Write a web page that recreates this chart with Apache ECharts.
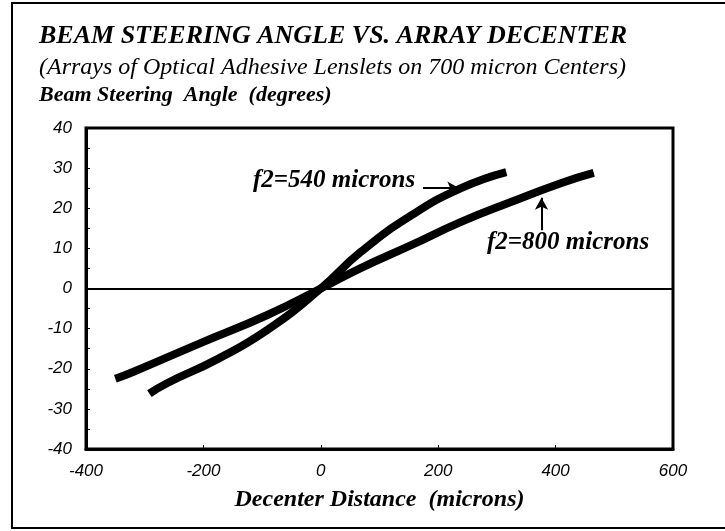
<!DOCTYPE html>
<html>
<head>
<meta charset="utf-8">
<script src="https://cdn.jsdelivr.net/npm/echarts@6/dist/echarts.min.js"></script>
<style>
  html, body { margin: 0; padding: 0; background: #fff; }
  #chart { width: 725px; height: 531px; }
</style>
</head>
<body>
<div id="chart"></div>
<script>
// 曲线数据
const f540X = [-292, -262, -176, -91, 0, 68, 154, 239, 316];
const f540Y = [-26.2, -23.6, -17.6, -10.3, 0, 9.1, 18.2, 25, 29];
const f800X = [-350, -320, -205, -91, 0, 68, 154, 239, 325, 410, 465];
const f800Y = [-22.5, -20.8, -13.6, -6.6, 0, 5.1, 10.8, 16.6, 21.6, 26.3, 28.8];

const xTicks = [-400, -200, 0, 200, 400, 600];
const yTicks = [-40, -30, -20, -10, 0, 10, 20, 30, 40];

const serif = '"Liberation Serif", "DejaVu Serif", serif';
const sans = '"Liberation Sans", Arial, sans-serif';

const chart = echarts.init(document.getElementById('chart'));

const zip = (xs, ys) => xs.map((x, i) => [x, ys[i]]);

const axisLabel = {
  color: '#000',
  fontFamily: sans,
  fontStyle: 'italic',
  fontSize: 17
};

const curveStyle = {
  type: 'line',
  smooth: true,
  showSymbol: false,
  symbol: 'none',
  silent: true,
  lineStyle: { color: '#000', width: 8, cap: 'butt' }
};

const option = {
  backgroundColor: '#fff',
  animation: false,
  title: [
    {
      text: 'BEAM STEERING ANGLE VS. ARRAY DECENTER',
      left: 34, top: 18,
      textStyle: { fontFamily: serif, fontStyle: 'italic', fontWeight: 'bold', fontSize: 26, color: '#000' }
    },
    {
      text: '(Arrays of Optical Adhesive Lenslets on 700 micron Centers)',
      left: 34, top: 51,
      textStyle: { fontFamily: serif, fontStyle: 'italic', fontWeight: 'normal', fontSize: 24, color: '#000' }
    },
    {
      text: 'Beam Steering  Angle  (degrees)',
      left: 34, top: 79,
      textStyle: { fontFamily: serif, fontStyle: 'italic', fontWeight: 'bold', fontSize: 22, color: '#000' }
    }
  ],
  grid: {
    left: 86, right: 52, top: 128, bottom: 82,
    show: true,
    borderColor: '#000',
    borderWidth: 3
  },
  xAxis: {
    type: 'value',
    min: -400, max: 600, interval: 200,
    name: 'Decenter Distance  (microns)',
    nameLocation: 'middle',
    nameGap: 39,
    nameTextStyle: { fontFamily: serif, fontStyle: 'italic', fontWeight: 'bold', fontSize: 24, color: '#000' },
    axisLine: { show: true, onZero: false, lineStyle: { color: '#000', width: 3 } },
    axisTick: { show: true, inside: true, length: 4, lineStyle: { color: '#000', width: 1 } },
    splitLine: { show: false },
    axisLabel: Object.assign({ margin: 14, formatter: v => xTicks.includes(v) ? String(v) : '' }, axisLabel)
  },
  yAxis: {
    type: 'value',
    min: -40, max: 40, interval: 10,
    axisLine: { show: true, onZero: false, lineStyle: { color: '#000', width: 3 } },
    axisTick: { show: true, inside: true, length: 4, lineStyle: { color: '#000', width: 1 } },
    minorTick: { show: true, splitNumber: 2, length: 4, lineStyle: { color: '#000', width: 1 } },
    splitLine: { show: false },
    axisLabel: Object.assign({ margin: 14, formatter: v => yTicks.includes(v) ? String(v) : '' }, axisLabel)
  },
  series: [
    Object.assign({
      name: 'f2=540 microns',
      data: zip(f540X, f540Y),
      markLine: {
        silent: true,
        symbol: 'none',
        label: { show: false },
        lineStyle: { color: '#000', width: 2, type: 'solid' },
        data: [{ yAxis: 0 }]
      }
    }, curveStyle),
    Object.assign({
      name: 'f2=800 microns',
      data: zip(f800X, f800Y)
    }, curveStyle),
    // 标注箭头
    {
      type: 'line',
      silent: true,
      data: [],
      markLine: {
        silent: true,
        symbol: ['none', 'arrow'],
        symbolSize: [10, 12],
        label: { show: false },
        lineStyle: { color: '#000', width: 2, type: 'solid' },
        data: [
          [{ coord: [174, 25.0] }, { coord: [236, 25.0] }],
          [{ coord: [376, 14.5] }, { coord: [376, 22.6] }]
        ]
      }
    }
  ],
  graphic: [
    {
      type: 'rect',
      silent: true,
      shape: { x: 12, y: 3, width: 760, height: 525 },
      style: { fill: 'none', stroke: '#000', lineWidth: 2 }
    },
    {
      type: 'text',
      left: 253, top: 168,
      style: { text: 'f2=540 microns', font: 'italic bold 25px ' + serif, fill: '#000' }
    },
    {
      type: 'text',
      left: 487, top: 230,
      style: { text: 'f2=800 microns', font: 'italic bold 25px ' + serif, fill: '#000' }
    }
  ]
};

chart.setOption(option);
</script>
</body>
</html>
